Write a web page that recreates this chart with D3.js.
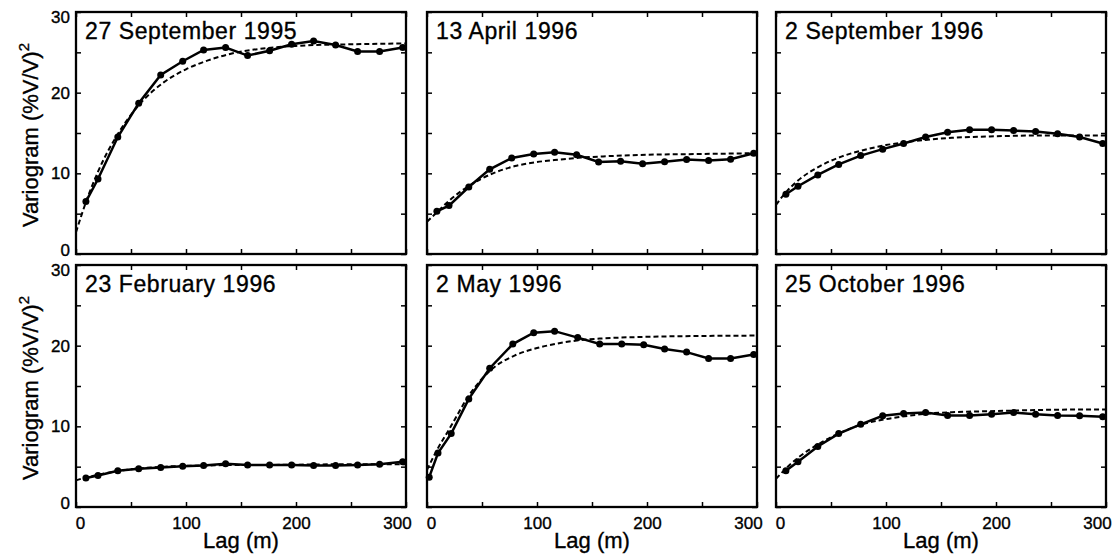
<!DOCTYPE html>
<html>
<head>
<meta charset="utf-8">
<script src="https://cdn.jsdelivr.net/npm/d3@7"></script>
<style>
  html, body { margin: 0; padding: 0; background: #fff; }
  svg { display: block; font-family: "Liberation Sans", Arial, Helvetica, sans-serif; }
  text { fill: #000; stroke: #000; stroke-width: 0.35px; }
  .tick text { font-size: 17px; }
  .tick line { stroke: #000; stroke-width: 1.5; }
</style>
</head>
<body>
<svg id="chart" width="1118" height="559"></svg>
<script>
const lags = [9, 20, 38, 57, 77, 97, 116, 136, 156, 176, 196, 216, 236, 256, 276, 297];
const lagsMay = [2, 10, 22, 38, 57, 78, 97, 116, 137, 157, 177, 197, 216, 236, 256, 276, 297];
const fitLags = [0, 10, 20, 40, 60, 80, 100, 120, 140, 160, 200, 250, 300];

const titles = [
  "27 September 1995",
  "13 April 1996",
  "2 September 1996",
  "23 February 1996",
  "2 May 1996",
  "25 October 1996",
];

const sep95 = [6.5, 9.3, 14.5, 18.7, 22.2, 23.9, 25.3, 25.6, 24.6, 25.2, 26.0, 26.4, 25.9, 25.1, 25.1, 25.6];
const sep95Fit = [2.7, 6.8, 10.2, 15.3, 18.9, 21.3, 22.9, 24.0, 24.8, 25.3, 25.8, 26.0, 26.1];
const apr96 = [5.3, 6.0, 8.3, 10.5, 11.9, 12.4, 12.6, 12.3, 11.4, 11.5, 11.2, 11.45, 11.7, 11.6, 11.75, 12.5];
const apr96Fit = [4.0, 5.3, 6.6, 8.6, 10.0, 10.9, 11.4, 11.7, 11.95, 12.1, 12.3, 12.4, 12.5];
const sep96 = [7.4, 8.4, 9.8, 11.1, 12.2, 13.0, 13.7, 14.5, 15.1, 15.4, 15.4, 15.3, 15.2, 14.9, 14.5, 13.7];
const sep96Fit = [6.1, 7.8, 9.1, 10.9, 12.1, 12.9, 13.5, 13.9, 14.2, 14.4, 14.6, 14.7, 14.7];
const feb96 = [3.6, 3.9, 4.5, 4.75, 4.9, 5.05, 5.15, 5.35, 5.2, 5.2, 5.2, 5.15, 5.15, 5.2, 5.3, 5.6];
const feb96Fit = [3.3, 3.7, 4.0, 4.5, 4.8, 5.0, 5.1, 5.15, 5.2, 5.2, 5.25, 5.3, 5.3];
const may96 = [3.7, 6.7, 9.1, 13.4, 17.2, 20.2, 21.6, 21.8, 21.0, 20.2, 20.2, 20.1, 19.6, 19.2, 18.4, 18.4, 18.9];
const may96Fit = [4.6, 7.3, 9.6, 14.2, 17.2, 18.8, 19.7, 20.3, 20.7, 20.9, 21.1, 21.2, 21.25];
const oct96 = [4.5, 5.6, 7.5, 9.1, 10.25, 11.3, 11.6, 11.7, 11.35, 11.35, 11.5, 11.7, 11.5, 11.35, 11.3, 11.2];
const oct96Fit = [3.5, 4.9, 6.1, 7.9, 9.3, 10.3, 10.9, 11.3, 11.6, 11.75, 11.9, 12.05, 12.1];

const xTicks = [0, 50, 100, 150, 200, 250, 300];
const yTicks = [0, 5, 10, 15, 20, 25, 30];
const xTickLabels = [0, 100, 200, 300];
const yTickLabels = [0, 10, 20, 30];

const panels = [
  { title: titles[0], lag: lags, values: sep95, fit: sep95Fit },
  { title: titles[1], lag: lags, values: apr96, fit: apr96Fit },
  { title: titles[2], lag: lags, values: sep96, fit: sep96Fit },
  { title: titles[3], lag: lags, values: feb96, fit: feb96Fit },
  { title: titles[4], lag: lagsMay, values: may96, fit: may96Fit },
  { title: titles[5], lag: lags, values: oct96, fit: oct96Fit },
];

const colLeft = [76, 427, 776];
const rowTop = [12, 265];
const panelW = 330;
const panelH = 242;

const svg = d3.select("#chart");

const x = d3.scaleLinear().domain([0, 300]).range([0, panelW]);
const y = d3.scaleLinear().domain([0, 30]).range([panelH, 0]);

const dataLine = d3.line().x((d) => x(d[0])).y((d) => y(d[1]));
const fitLine = d3
  .line()
  .x((d) => x(d[0]))
  .y((d) => y(d[1]))
  .curve(d3.curveMonotoneX);

// end labels sit a little inside the frame, as in the print
const xLabelShift = (d) => (d === 0 ? 4 : d === 300 ? -9 : 0);
const yLabelShift = (d) => (d === 30 ? 5 : d === 0 ? -4 : 0);

panels.forEach((p, i) => {
  const col = i % 3;
  const row = Math.floor(i / 3);
  const isLeft = col === 0;
  const isBottom = row === 1;

  const g = svg
    .append("g")
    .attr("transform", `translate(${colLeft[col]},${rowTop[row]})`);

  const fmtX = (d) => (isBottom && xTickLabels.includes(d) ? d : "");
  const fmtY = (d) => (isLeft && yTickLabels.includes(d) ? d : "");

  g.append("g")
    .attr("transform", `translate(0,${panelH})`)
    .call(
      d3.axisBottom(x).tickValues(xTicks).tickSizeInner(-5).tickSizeOuter(0)
        .tickPadding(10).tickFormat(fmtX),
    )
    .selectAll(".tick text")
    .attr("dx", xLabelShift);
  g.append("g")
    .call(d3.axisTop(x).tickValues(xTicks).tickSizeInner(-5).tickSizeOuter(0).tickFormat(""));
  g.append("g")
    .call(
      d3.axisLeft(y).tickValues(yTicks).tickSizeInner(-5).tickSizeOuter(0)
        .tickPadding(6).tickFormat(fmtY),
    )
    .selectAll(".tick text")
    .attr("transform", (d) => `translate(0,${yLabelShift(d)})`);
  g.append("g")
    .attr("transform", `translate(${panelW},0)`)
    .call(d3.axisRight(y).tickValues(yTicks).tickSizeInner(-5).tickSizeOuter(0).tickFormat(""));

  g.selectAll(".domain").remove();

  g.append("rect")
    .attr("width", panelW)
    .attr("height", panelH)
    .attr("fill", "none")
    .attr("stroke", "#000")
    .attr("stroke-width", 2.3);

  const fitPoints = fitLags.map((l, k) => [l, p.fit[k]]);
  const points = p.lag.map((l, k) => [l, p.values[k]]);

  g.append("path")
    .datum(fitPoints)
    .attr("d", fitLine)
    .attr("fill", "none")
    .attr("stroke", "#000")
    .attr("stroke-width", 2)
    .attr("stroke-dasharray", "5,3");

  g.append("path")
    .datum(points)
    .attr("d", dataLine)
    .attr("fill", "none")
    .attr("stroke", "#000")
    .attr("stroke-width", 2.5);

  g.selectAll("circle")
    .data(points)
    .join("circle")
    .attr("cx", (d) => x(d[0]))
    .attr("cy", (d) => y(d[1]))
    .attr("r", 3.5)
    .attr("fill", "#000");

  g.append("text")
    .attr("x", 9)
    .attr("y", 27)
    .attr("font-size", 23)
    .attr("letter-spacing", 0.6)
    .text(p.title);

  if (isLeft) {
    const label = g
      .append("text")
      .attr("transform", `translate(-38,${panelH / 2 + 2}) rotate(-90)`)
      .attr("text-anchor", "middle")
      .attr("font-size", 22);
    label.append("tspan").text("Variogram (%V/V)");
    label.append("tspan").attr("dy", -9).attr("font-size", 15).text("2");
  }

  if (isBottom) {
    g.append("text")
      .attr("x", panelW / 2)
      .attr("y", panelH + 41)
      .attr("text-anchor", "middle")
      .attr("font-size", 22)
      .text("Lag (m)");
  }
});
</script>
</body>
</html>
